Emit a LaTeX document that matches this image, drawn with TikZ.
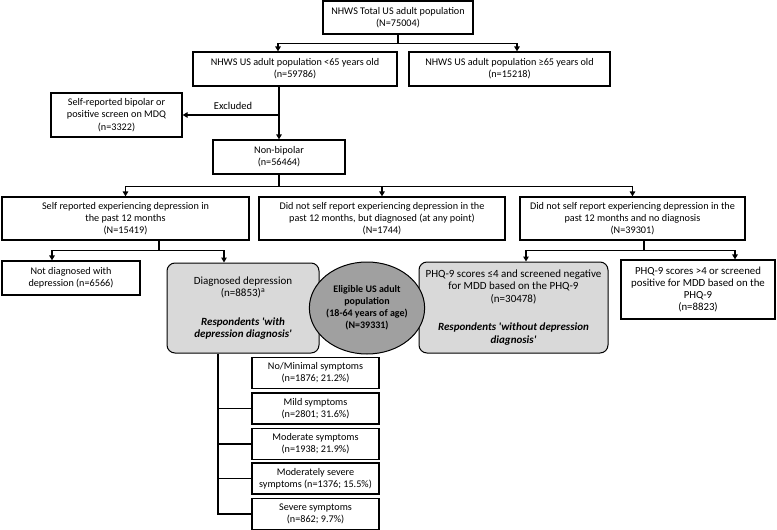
\documentclass[tikz,border=0pt]{standalone}
\usepackage{fontspec}
\setmainfont{Carlito}
\usetikzlibrary{arrows.meta,shapes.geometric,calc}
\definecolor{boxgray}{RGB}{217,217,217}
\definecolor{ellgray}{RGB}{160,160,160}
\begin{document}
\begin{tikzpicture}[x=1pt,y=-1pt,
  box/.style={draw=black, line width=1.2pt, align=center, inner sep=0pt, font=\fontsize{10.2}{12.3}\selectfont},
  rbox/.style={box, fill=boxgray, rounded corners=8pt, line width=1pt, font=\fontsize{11}{12.5}\selectfont},
  sbox/.style={box, minimum width=127pt, minimum height=31pt},
  conn/.style={line width=1.2pt},
  arr/.style={conn, -{Triangle[length=5pt,width=5.5pt]}},
  lbl/.style={font=\fontsize{10.5}{12}\selectfont, inner sep=0pt}
]
\useasboundingbox (0,0) rectangle (777,530);

\node[box, minimum width=150pt, minimum height=33pt] (b1) at (398,17.5) {NHWS Total US adult population\\(N=75004)};
\node[box, minimum width=204pt, minimum height=34pt] (b2) at (295,69) {NHWS US adult population <65 years old\\(n=59786)};
\node[box, minimum width=201pt, minimum height=34pt] (b3) at (509.5,69) {NHWS US adult population ≥65 years old\\(n=15218)};
\node[box, minimum width=131pt, minimum height=44pt] (b4) at (116.5,115) {Self-reported bipolar or\\positive screen on MDQ\\(n=3322)};
\node[box, minimum width=132pt, minimum height=34pt] (b5) at (279,157) {Non-bipolar\\(n=56464)};
\node[box, minimum width=247pt, minimum height=43pt] (b6) at (125.5,218.5) {Self reported experiencing depression in\\the past 12 months\\(N=15419)};
\node[box, minimum width=246pt, minimum height=43pt] (b7) at (382,218.5) {Did not self report experiencing depression in the\\past 12 months, but diagnosed (at any point)\\(N=1744)};
\node[box, minimum width=225pt, minimum height=43pt] (b8) at (632.5,218.5) {Did not self report experiencing depression in the\\past 12 months and no diagnosis\\(N=39301)};
\node[box, minimum width=138pt, minimum height=34pt] (b9) at (71,278) {Not diagnosed with\\depression (n=6566)};
\node[rbox, minimum width=152pt, minimum height=90pt] (b10) at (243,308) {Diagnosed depression\\(n=8853)\textsuperscript{a}\\[16pt]\textbf{\textit{Respondents \textquotesingle with}}\\\textbf{\textit{depression diagnosis\textquotesingle}}};
\node[rbox, minimum width=189pt, minimum height=91pt] (b11) at (513.5,307.5) {PHQ-9 scores ≤4 and screened negative\\for MDD based on the PHQ-9\\(n=30478)\\[16pt]\textbf{\textit{Respondents \textquotesingle without depression}}\\\textbf{\textit{diagnosis\textquotesingle}}};
\node[box, minimum width=154pt, minimum height=59pt, font=\fontsize{10.8}{12}\selectfont] (b12) at (698,289.5) {PHQ-9 scores >4 or screened\\positive for MDD based on the\\PHQ-9\\(n=8823)};
\node[ellipse, draw=black, fill=ellgray, line width=1pt, minimum width=100pt, minimum height=92pt, inner sep=0pt, align=center, font=\bfseries\fontsize{10}{12}\selectfont] (ell) at (367,308) {Eligible US adult\\population\\(18-64 years of age)\\(N=39331)};

\node[sbox] (s1) at (315.5,373) {No/Minimal symptoms\\(n=1876; 21.2\%)};
\node[sbox] (s2) at (315.5,408.5) {Mild symptoms\\(n=2801; 31.6\%)};
\node[sbox] (s3) at (315.5,444) {Moderate symptoms\\(n=1938; 21.9\%)};
\node[sbox] (s4) at (315.5,478.5) {Moderately severe\\symptoms (n=1376; 15.5\%)};
\node[sbox] (s5) at (315.5,514) {Severe symptoms\\(n=862; 9.7\%)};

\draw[conn] (b1.south) -- ++(0,9) coordinate (j1);
\draw[arr] (j1) -| ([xshift=-17pt]b2.north);
\draw[arr] (j1) -| ([xshift=7.5pt]b3.north);

\draw[arr] ([xshift=-16pt]b2.south) -- (b5.north);
\coordinate (j2) at (b5.north |- b4.east);
\draw[arr] (j2) -- (b4.east);
\node[lbl] (excl) at (233,106) {Excluded};

\draw[conn] (b5.south) -- ++(0,12) coordinate (j3);
\draw[arr] (j3) -| (b6.north);
\draw[arr] (j3) -| (b7.north);
\draw[arr] (j3) -| (b8.north);

\draw[conn] ([xshift=33.5pt]b6.south) -- ++(0,10) coordinate (j4);
\draw[arr] (j4) -| ([xshift=-19pt]b9.north);
\draw[arr] (j4) -| ([xshift=-19pt]b10.north);

\draw[conn] ([xshift=11.5pt]b8.south) -- ++(0,10) coordinate (j5);
\draw[arr] (j5) -| ([xshift=12.5pt]b11.north);
\draw[arr] (j5) -| ([xshift=37pt]b12.north);

\coordinate (t0) at ([xshift=-25pt]b10.south);
\draw[conn] (t0) |- (s5.west);
\foreach \s in {s2,s3,s4} \draw[conn] (t0 |- \s.west) -- (\s.west);
\end{tikzpicture}
\end{document}
